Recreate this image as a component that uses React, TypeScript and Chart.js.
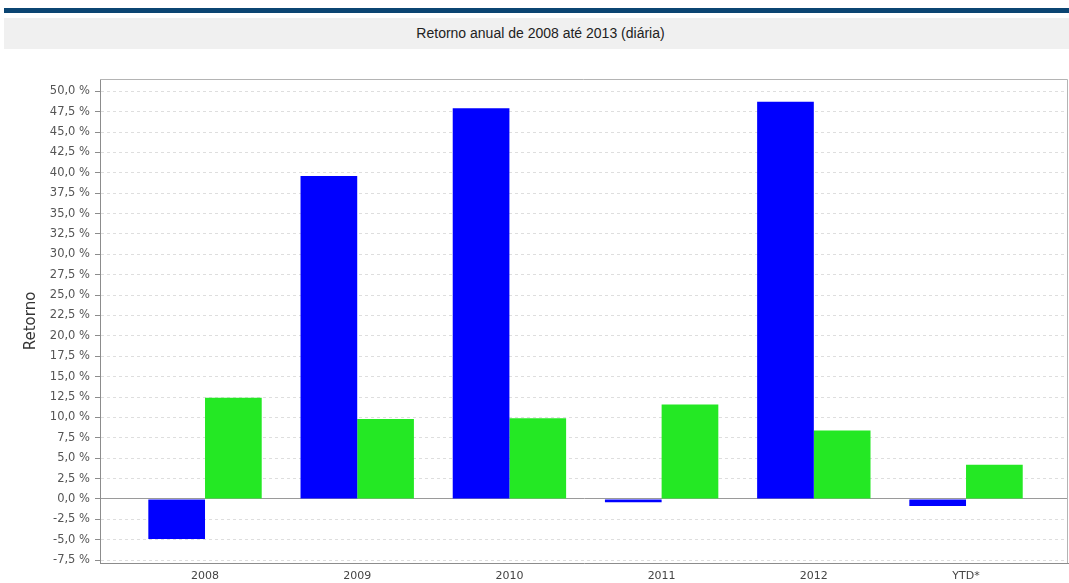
import React, { useEffect, useRef } from "react";
import { Chart, registerables } from "chart.js";

Chart.register(...registerables);

const categories = ["2008", "2009", "2010", "2011", "2012", "YTD*"];
const seriesBlue = [-4.9, 39.6, 47.9, -0.4, 48.7, -0.85];
const seriesGreen = [12.4, 9.8, 9.9, 11.6, 8.4, 4.2];
const titleText = "Retorno anual de 2008 até 2013 (diária)";
const yTitle = "Retorno";
const yFirstTick = -7.5;
const yLastTick = 50;
const yStep = 2.5;
const yMin = -7.85;
const yMax = 51.5;

const yTickValues: number[] = [];
for (let i = 0; yFirstTick + i * yStep <= yLastTick + 1e-9; i++) {
  yTickValues.push(Math.round((yFirstTick + i * yStep) * 10) / 10);
}

const fmt = (v: number) => v.toFixed(1).replace(".", ",") + " %";

export default function App() {
  const ref = useRef<HTMLCanvasElement | null>(null);

  useEffect(() => {
    if (!ref.current) return;
    const borderPlugin = {
      id: "plotBorder",
      afterDraw(chart: any) {
        const { ctx, chartArea } = chart;
        ctx.save();
        ctx.strokeStyle = "#b4b4b4";
        ctx.lineWidth = 1;
        ctx.beginPath();
        ctx.moveTo(chartArea.left, Math.round(chartArea.top) + 0.5);
        ctx.lineTo(Math.round(chartArea.right) - 0.5, Math.round(chartArea.top) + 0.5);
        ctx.lineTo(Math.round(chartArea.right) - 0.5, chartArea.bottom);
        ctx.stroke();
        ctx.restore();
      },
    };
    const chart = new Chart(ref.current, {
      type: "bar",
      data: {
        datasets: [
          {
            label: "A",
            data: seriesBlue.map((v, i) => ({ x: i, y: v })),
            backgroundColor: "#0000ff",
            borderWidth: 0,
          },
          {
            label: "B",
            data: seriesGreen.map((v, i) => ({ x: i, y: v })),
            backgroundColor: "#24e824",
            borderWidth: 0,
          },
        ],
      },
      options: {
        animation: false,
        responsive: false,
        maintainAspectRatio: false,
        layout: { padding: { top: 29, right: 1, left: 0, bottom: 0 } },
        datasets: { bar: { categoryPercentage: 0.745, barPercentage: 1.0 } },
        plugins: {
          legend: { display: false },
          tooltip: { enabled: false },
          title: { display: false },
        },
        scales: {
          x: {
            type: "linear",
            offset: false,
            min: -0.69,
            max: categories.length - 1 + 0.67,
            afterBuildTicks: (scale: any) => {
              scale.ticks = categories.map((_, i) => ({ value: i }));
            },
            afterFit: (scale: any) => {
              scale.height = 20;
            },
            grid: { display: false, drawTicks: false },
            border: { display: true, color: "#8c8c8c", width: 1 },
            ticks: {
              padding: 7,
              maxRotation: 0,
              autoSkip: false,
              color: "#444",
              font: { family: "DejaVu Sans", size: 11 },
              callback: (v: any) => categories[Math.round(Number(v))] ?? "",
            },
          },
          y: {
            min: yMin,
            max: yMax,
            afterBuildTicks: (scale: any) => {
              scale.ticks = yTickValues.map((v) => ({ value: v }));
            },
            afterFit: (scale: any) => {
              scale.width = 100;
            },
            ticks: {
              padding: 5,
              color: "#555",
              font: { family: "DejaVu Sans", size: 11.5 },
              callback: (v: any) => fmt(Number(v)),
            },
            grid: {
              color: (ctx: any) =>
                ctx.tick && Math.abs(ctx.tick.value) < 1e-9 ? "#9a9a9a" : "#dedede",
              lineWidth: 1,
              drawTicks: true,
              tickLength: 5,
              tickColor: "#8c8c8c",
              tickBorderDash: [],
            },
            border: {
              display: true,
              color: "#8c8c8c",
              width: 1,
              dash: (ctx: any) =>
                ctx.tick && Math.abs(ctx.tick.value) < 1e-9 ? [] : [3, 3],
            },
            title: {
              display: true,
              text: yTitle,
              color: "#333",
              font: { family: "DejaVu Sans", size: 15 },
              padding: { top: 22, bottom: 0 },
            },
          },
        },
      },
      plugins: [borderPlugin],
    } as any);
    return () => chart.destroy();
  }, []);

  return (
    <div
      style={{
        position: "absolute",
        left: 0,
        top: 0,
        width: 1069,
        height: 583,
        background: "#ffffff",
        overflow: "hidden",
      }}
    >
      <div
        style={{
          position: "absolute",
          left: 4,
          top: 8,
          width: 1065,
          height: 5,
          background: "#0b4572",
        }}
      />
      <div
        style={{
          position: "absolute",
          left: 4,
          top: 18,
          width: 1065,
          height: 31,
          boxSizing: "border-box",
          paddingLeft: 8,
          background: "#f0f0f0",
          fontFamily: "'Liberation Sans', Arial, sans-serif",
          fontSize: 14,
          color: "#222",
          lineHeight: "31px",
          textAlign: "center",
        }}
      >
        {titleText}
      </div>
      <canvas
        ref={ref}
        width={1069}
        height={533}
        style={{ position: "absolute", left: 0, top: 50, width: 1069, height: 533 }}
      />
    </div>
  );
}
